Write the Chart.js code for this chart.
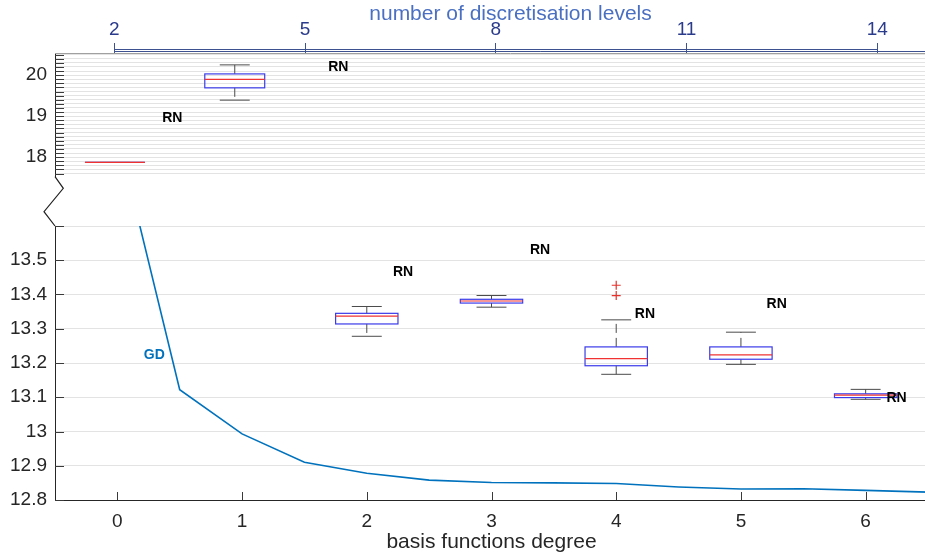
<!DOCTYPE html>
<html>
<head>
<meta charset="utf-8">
<script src="https://cdn.jsdelivr.net/npm/chart.js@4.4.1/dist/chart.umd.min.js"></script>
<style>
  html, body { margin: 0; padding: 0; background: #fff; overflow: hidden; width: 925px; height: 560px; }
  #wrap { position: relative; width: 925px; height: 560px; overflow: hidden; }
  canvas { position: absolute; left: 0; }
  #top { top: 0; }
  #bot { top: 170px; }
</style>
</head>
<body>
<div id="wrap">
  <canvas id="top" width="980" height="180"></canvas>
  <canvas id="bot" width="940" height="390"></canvas>
</div>
<script>
// GD curve
const gdX = [0, 0.5, 1, 1.5, 2, 2.5, 3, 3.5, 4, 4.5, 5, 5.5, 6, 6.5];
const gdY = [13.87, 13.122, 12.993, 12.910, 12.878, 12.858, 12.851, 12.850, 12.848, 12.838, 12.832, 12.833, 12.828, 12.823];

// RN boxplots, lower panel
const boxX   = [2, 3, 4, 5, 6];
const boxLo  = [13.278, 13.363, 13.167, 13.196, 13.094];
const boxQ1  = [13.314, 13.375, 13.192, 13.211, 13.099];
const boxMed = [13.337, 13.381, 13.213, 13.224, 13.106];
const boxQ3  = [13.345, 13.386, 13.247, 13.247, 13.110];
const boxHi  = [13.365, 13.397, 13.326, 13.290, 13.123];
const outX = [4, 4];
const outY = [13.427, 13.397];

// RN boxplots, upper panel
const topBoxX   = [-0.02, 0.94];
const topBoxLo  = [17.87, 19.39];
const topBoxQ1  = [17.87, 19.69];
const topBoxMed = [17.87, 19.895];
const topBoxQ3  = [17.87, 20.03];
const topBoxHi  = [17.87, 20.25];

// text labels
const topRnX = [1.77, 0.44];
const topRnY = [20.195, 18.951];
const botRnX = [2.291, 3.389, 4.23, 5.287, 6.248];
const botRnY = [13.466, 13.53, 13.344, 13.373, 13.097];
const gdLabelX = 0.296, gdLabelY = 13.222;

// ticks
const levelTicks = [2, 5, 8, 11, 14];
const degreeTicks = [0, 1, 2, 3, 4, 5, 6];
const topYLabels = [18, 19, 20];
const botYLabels = [12.8, 12.9, 13, 13.1, 13.2, 13.3, 13.4, 13.5];

const FONT = "'Liberation Sans', Arial, Helvetica, sans-serif";
const AXIS = '#262626';
const NAVY = '#2b3b8c';
const GRID = '#e3e3e3';
const BOX_W_TOP = 0.48, BOX_W_BOT = 0.5, CAP_W = 0.24;

const r1 = v => Math.round(v * 10) / 10;
function steps(from, to, step) {
  const out = [];
  for (let v = from; v <= to + 1e-9; v += step) out.push({ value: r1(v) });
  return out;
}
// fixed axis size, no label-driven padding
const fixW = w => s => { s.width = w; s.paddingTop = 0; s.paddingBottom = 0; };
const fixH = h => s => { s.height = h; s.paddingLeft = 0; s.paddingRight = 0; };

function boxPlugin(xs, lo, q1, med, q3, hi, boxW) {
  return {
    id: 'boxes',
    afterDatasetsDraw(chart) {
      const { ctx, chartArea: a, scales: { x, y } } = chart;
      ctx.save();
      ctx.beginPath();
      ctx.rect(a.left, a.top, a.right - a.left, a.bottom - a.top);
      ctx.clip();
      xs.forEach((xv, i) => {
        const cx = x.getPixelForValue(xv);
        const bl = x.getPixelForValue(xv - boxW / 2), br = x.getPixelForValue(xv + boxW / 2);
        const cl = x.getPixelForValue(xv - CAP_W / 2), cr = x.getPixelForValue(xv + CAP_W / 2);
        const yLo = y.getPixelForValue(lo[i]), yQ1 = y.getPixelForValue(q1[i]);
        const yMed = y.getPixelForValue(med[i]), yQ3 = y.getPixelForValue(q3[i]);
        const yHi = y.getPixelForValue(hi[i]);
        // whiskers
        ctx.strokeStyle = '#4a4a4a';
        ctx.lineWidth = 1;
        ctx.setLineDash([9, 5]);
        ctx.beginPath();
        ctx.moveTo(cx, yQ3); ctx.lineTo(cx, yHi);
        ctx.moveTo(cx, yQ1); ctx.lineTo(cx, yLo);
        ctx.stroke();
        ctx.setLineDash([]);
        ctx.beginPath();
        ctx.moveTo(cl, yHi); ctx.lineTo(cr, yHi);
        ctx.moveTo(cl, yLo); ctx.lineTo(cr, yLo);
        ctx.stroke();
        // box
        ctx.strokeStyle = '#3b3bea';
        ctx.lineWidth = 1.2;
        ctx.strokeRect(bl, yQ3, br - bl, yQ1 - yQ3);
        // median
        ctx.strokeStyle = '#f03232';
        ctx.beginPath();
        ctx.moveTo(bl, yMed); ctx.lineTo(br, yMed);
        ctx.stroke();
      });
      ctx.restore();
    }
  };
}

function textPlugin(xs, ys, extra) {
  return {
    id: 'labels',
    afterDraw(chart) {
      const { ctx, scales: { x, y } } = chart;
      ctx.save();
      ctx.font = 'bold 14px ' + FONT;
      ctx.textAlign = 'center';
      ctx.textBaseline = 'middle';
      ctx.fillStyle = '#000';
      xs.forEach((xv, i) => ctx.fillText('RN', x.getPixelForValue(xv), y.getPixelForValue(ys[i])));
      if (extra) {
        ctx.fillStyle = '#0072bd';
        ctx.fillText(extra.text, x.getPixelForValue(extra.x), y.getPixelForValue(extra.y));
      }
      ctx.restore();
    }
  };
}

const innerTicks = {
  id: 'innerTicks',
  afterDraw(chart) {
    const { ctx, chartArea: a, scales } = chart;
    ctx.save();
    ctx.strokeStyle = '#3a3a3a';
    ctx.lineWidth = 1;
    ctx.beginPath();
    scales.y.ticks.forEach(t => {
      const py = Math.round(scales.y.getPixelForValue(t.value)) + 0.5;
      ctx.moveTo(a.left, py); ctx.lineTo(a.left + 9, py);
    });
    if (scales.x.options.display) {
      scales.x.ticks.forEach(t => {
        const px = Math.round(scales.x.getPixelForValue(t.value)) + 0.5;
        ctx.moveTo(px, a.bottom); ctx.lineTo(px, a.bottom - 8);
      });
    }
    ctx.stroke();
    ctx.restore();
  }
};

const topFrame = {
  id: 'topFrame',
  afterDraw(chart) {
    const { ctx, chartArea: a, scales: { xTop } } = chart;
    const x2 = xTop.getPixelForValue(levelTicks[0]);
    const x14 = xTop.getPixelForValue(levelTicks[levelTicks.length - 1]);
    ctx.save();
    ctx.lineWidth = 1;
    ctx.strokeStyle = '#a0a0a0';
    ctx.beginPath(); ctx.moveTo(a.left, a.top + 0.5); ctx.lineTo(a.right, a.top + 0.5); ctx.stroke();
    ctx.strokeStyle = '#3d5190';
    ctx.beginPath();
    ctx.moveTo(x2, a.top - 3.5); ctx.lineTo(x14, a.top - 3.5);
    ctx.moveTo(x2, a.top - 1.5); ctx.lineTo(a.right, a.top - 1.5);
    ctx.stroke();
    ctx.restore();
  }
};

const breakMark = {
  id: 'breakMark',
  afterDraw(chart) {
    const { ctx, chartArea: a } = chart;
    ctx.save();
    ctx.strokeStyle = '#222';
    ctx.lineWidth = 1.2;
    ctx.beginPath();
    ctx.moveTo(a.left, a.top - 49.3);
    ctx.lineTo(a.left + 8.3, a.top - 37.7);
    ctx.lineTo(a.left - 11, a.top - 14.3);
    ctx.lineTo(a.left, a.top);
    ctx.stroke();
    ctx.restore();
  }
};

Chart.defaults.font.family = FONT;
Chart.defaults.color = AXIS;

// upper panel
new Chart(document.getElementById('top').getContext('2d'), {
  type: 'scatter',
  data: { datasets: [{ data: [] }] },
  options: {
    responsive: false,
    animation: false,
    layout: { padding: { left: 0, right: 14, top: 0, bottom: 4 } },
    plugins: { legend: { display: false }, tooltip: { enabled: false } },
    scales: {
      x: { type: 'linear', min: -0.5, max: 6.798, display: false },
      xTop: {
        type: 'linear', position: 'top', min: 1.067, max: 15.395,
        afterBuildTicks: s => { s.ticks = levelTicks.map(v => ({ value: v })); },
        afterFit: fixH(53),
        grid: { drawOnChartArea: false, drawTicks: true, tickLength: 10, color: '#3d5190' },
        border: { display: false },
        ticks: { color: NAVY, font: { size: 19 }, padding: 2, autoSkip: false, maxRotation: 0 },
        title: { display: true, text: 'number of discretisation levels', color: '#4a70c2',
                 font: { size: 21 }, padding: { top: 2, bottom: 0 } }
      },
      y: {
        type: 'linear', min: 17.54, max: 20.54,
        afterBuildTicks: s => { s.ticks = steps(17.6, 20.5, 0.1); },
        afterFit: fixW(55),
        grid: { color: GRID, drawTicks: false },
        border: { display: true, color: AXIS },
        ticks: {
          autoSkip: false, padding: 8, font: { size: 19 }, color: AXIS,
          callback: v => topYLabels.includes(r1(v)) ? String(r1(v)) : ''
        }
      }
    }
  },
  plugins: [innerTicks, topFrame,
    boxPlugin(topBoxX, topBoxLo, topBoxQ1, topBoxMed, topBoxQ3, topBoxHi, BOX_W_TOP),
    textPlugin(topRnX, topRnY)]
});

// lower panel
new Chart(document.getElementById('bot').getContext('2d'), {
  type: 'scatter',
  data: {
    datasets: [
      {
        label: 'GD',
        data: gdX.map((x, i) => ({ x, y: gdY[i] })),
        showLine: true, borderColor: '#0072bd', borderWidth: 1.6,
        pointRadius: 0, tension: 0
      },
      {
        label: 'outliers',
        data: outX.map((x, i) => ({ x, y: outY[i] })),
        pointStyle: 'cross', pointRadius: 4.5, borderColor: '#e8302a', borderWidth: 1.2,
        backgroundColor: '#e8302a'
      }
    ]
  },
  options: {
    responsive: false,
    animation: false,
    layout: { padding: { left: 0, right: 12, top: 56, bottom: 0 } },
    plugins: { legend: { display: false }, tooltip: { enabled: false } },
    scales: {
      x: {
        type: 'linear', min: -0.5, max: 6.5,
        afterBuildTicks: s => { s.ticks = degreeTicks.map(v => ({ value: v })); },
        afterFit: fixH(60),
        grid: { drawOnChartArea: false, drawTicks: false },
        border: { display: true, color: AXIS },
        ticks: { font: { size: 19 }, color: AXIS, padding: 10, autoSkip: false, maxRotation: 0 },
        title: { display: true, text: 'basis functions degree', color: AXIS,
                 font: { size: 21 }, padding: { top: 0, bottom: 5 } }
      },
      y: {
        type: 'linear', min: 12.8, max: 13.6,
        afterBuildTicks: s => { s.ticks = steps(12.8, 13.6, 0.1); },
        afterFit: fixW(55),
        grid: { color: GRID, drawTicks: false },
        border: { display: true, color: AXIS },
        ticks: {
          autoSkip: false, padding: 8, font: { size: 19 }, color: AXIS,
          callback: v => botYLabels.includes(r1(v)) ? String(r1(v)) : ''
        }
      }
    }
  },
  plugins: [innerTicks, breakMark,
    boxPlugin(boxX, boxLo, boxQ1, boxMed, boxQ3, boxHi, BOX_W_BOT),
    textPlugin(botRnX, botRnY, { text: 'GD', x: gdLabelX, y: gdLabelY })]
});
</script>
</body>
</html>
